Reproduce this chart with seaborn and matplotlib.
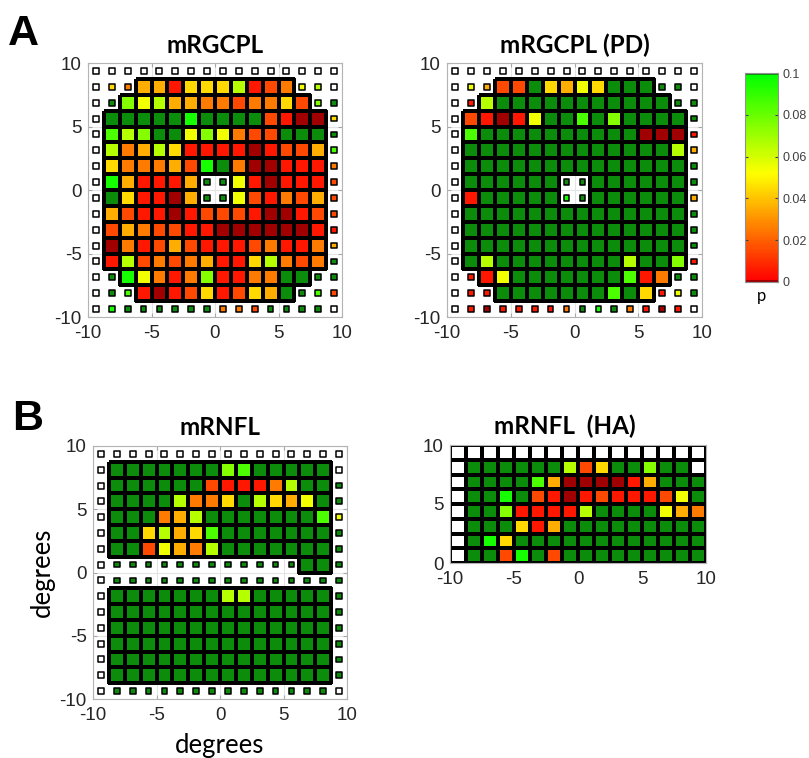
import numpy as np
import pandas as pd
import matplotlib
matplotlib.use("Agg")
import matplotlib.pyplot as plt
from matplotlib.colors import LinearSegmentedColormap, ListedColormap, to_rgba
import seaborn as sns

plt.rcParams["font.family"] = ["Liberation Sans", "DejaVu Sans"]

# p values, one character per test location (1.25 deg grid)
# digit d -> p about (d + 0.5) / 100, D -> p < 0.001 (dark red),
# G -> p >= 0.1 (dark green), W -> white
rgcpl = [
    "WWWWWWWWWWWWWWWW",
    "W42330444601256W",
    "WG7563322122417G",
    "WGGGGG9GGGG10DD4",
    "W867GG575211GGGG",
    "W623640000D01138",
    "W4222319G2DD0002",
    "W930003GG50D0001",
    "WG400D3GG5102131",
    "W3100D01110DD011",
    "W1321100DDDDDD00",
    "WD20131000120023",
    "W06121230046212G",
    "WG9520270022GGGG",
    "WG80D0140143GG81",
    "W9GGGGGG221GGGGW",
]
rgcpl_pd = [
    "WWWWWWWWWWWWWWWW",
    "W5311G4354GGGGGW",
    "W06GGGGGGGGGGGGG",
    "W10D05GG8G7GGGGG",
    "W8GGGGGGGGGGDDD0",
    "WGGGGGGGGGGGGG63",
    "WGGGGGGGGGGGGGGG",
    "WGGGGGGGGGGGGGGG",
    "W0GGGGG9GGGGGGG3",
    "WGGGGGGGGGGGGGGG",
    "WGGGGGGGGGGGGGGG",
    "WGGGGGGGGGGGGGGG",
    "WG6GGGGGGGG6GG70",
    "W005GGGGGGG802GG",
    "W00GGGGGGG8G405G",
    "W0D00002G9G20D0W",
]
rnfl = [
    "WWWWWWWWWWWWWWWW",
    "WGGGGGGG78GGGGGW",
    "WGGGGGG100026GGG",
    "WGGGG6224G6435GG",
    "WGGG236GGGGGGG85",
    "WGG46348GGGGGGGG",
    "WGG15326GGGGGGGG",
    "WGGGGGGGGGGGGGGG",
    "WGGGGGGGGGGGGGGG",
    "WGGGGGGG66GGGGGG",
    "WGGGGGGGGGGGGGGG",
    "WGGGGGGGGGGGGGGG",
    "WGGGGGGGGGGGGGGG",
    "WGGGGGGGGGGGGGGG",
    "WGGGGGGGGGGGGGGG",
    "WGGGGGGGGGGGGGGW",
]
rnfl_ha = [
    "WWWWWWWWWWWWWWWW",
    "WGGGGGG614GG7GGW",
    "WGGGG83DDDD03GGG",
    "WGG9G10D0100015G",
    "WGG700006GGGG532",
    "WGGG403GGGGGGGGG",
    "WG94GGGGGGGGGGGG",
    "WGG19G1GGGGGGGGG",
]

# '#' full square, '.' small marker
ring_shape = [
    "................",
    "...##########...",
    "..############..",
    ".##############.",
    ".##############.",
    ".##############.",
    ".##############.",
    ".######..######.",
    ".######..######.",
    ".##############.",
    ".##############.",
    ".##############.",
    ".##############.",
    "..############..",
    "...##########...",
    "................",
]
rnfl_shape = [
    "................",
    ".##############.",
    ".##############.",
    ".##############.",
    ".##############.",
    ".##############.",
    ".##############.",
    ".............##.",
    "................",
    ".##############.",
    ".##############.",
    ".##############.",
    ".##############.",
    ".##############.",
    ".##############.",
    "................",
]
ha_shape = ["################"] * 8

ticks = [-10, -5, 0, 5, 10]
cbar_ticks = [0, 0.02, 0.04, 0.06, 0.08, 0.1]
cbar_labels = ["0", "0.02", "0.04", "0.06", "0.08", "0.1"]

grad = LinearSegmentedColormap.from_list(
    "ryg", [(0, "#ff0000"), (0.52, "#ffff00"), (1, "#00ff00")])
lut = grad(np.linspace(0, 1, 100))
lut[0] = to_rgba("#a00000")
lut[-1] = to_rgba("#0b8c0b")
pmap = ListedColormap(lut)


def to_p(rows):
    p = np.full((len(rows), len(rows[0])), np.nan)
    for i, row in enumerate(rows):
        assert len(row) == p.shape[1], (i, row)
        for j, c in enumerate(row):
            if c == "D":
                p[i, j] = 0.0
            elif c == "G":
                p[i, j] = 0.1
            elif c.isdigit():
                p[i, j] = (int(c) + 0.5) / 100
    return p


def draw_map(ax, codes, shape, title, ymin=-10, cax=None, pad=7.5, tx=0.5):
    p = to_p(codes)
    big = np.array([[s == "#" for s in row] for row in shape])
    nrow, ncol = p.shape

    hide = ~big | np.isnan(p)
    sns.heatmap(p, mask=hide, cmap=pmap, vmin=0, vmax=0.1, linewidths=1.5,
                linecolor="black", cbar=cax is not None, cbar_ax=cax,
                xticklabels=False, yticklabels=False, ax=ax)
    edges = np.zeros((p.size, 4))
    edges[~hide.ravel()] = (0, 0, 0, 1)
    ax.collections[-1].set_edgecolor(edges)

    blank = big & np.isnan(p)
    if blank.any():
        sns.heatmap(np.zeros(p.shape), mask=~blank, cmap=ListedColormap(["white"]),
                    linewidths=1.5, linecolor="black", cbar=False,
                    xticklabels=False, yticklabels=False, ax=ax)
        edges = np.zeros((p.size, 4))
        edges[blank.ravel()] = (0, 0, 0, 1)
        ax.collections[-1].set_edgecolor(edges)

    r, c = np.nonzero(~big)
    dots = pd.DataFrame({"x": c + 0.5, "y": r + 0.5, "p": p[r, c]})
    if dots.p.notna().any():
        sns.scatterplot(data=dots.dropna(), x="x", y="y", hue="p", palette=pmap,
                        hue_norm=(0, 0.1), marker="s", s=17, edgecolor="black",
                        linewidth=1.1, legend=False, ax=ax)
    if dots.p.isna().any():
        sns.scatterplot(data=dots[dots.p.isna()], x="x", y="y", color="white",
                        marker="s", s=17, edgecolor="black", linewidth=1.1,
                        legend=False, ax=ax)

    ax.set_xlim(0, ncol)
    ax.set_ylim(nrow, 0)
    ax.set(xlabel="", ylabel="")
    ax.set_xticks([(t + 10) / 1.25 for t in ticks], [str(t) for t in ticks])
    yt = [t for t in ticks if t >= ymin]
    ax.set_yticks([(10 - t) / 1.25 for t in yt], [str(t) for t in yt])
    ax.tick_params(direction="in", length=3, color="#a8a8a8", labelsize=13.5,
                   labelcolor="#262626", top=True, right=True)
    ax.tick_params(axis="x", pad=6)
    ax.tick_params(axis="y", pad=4.5)
    ax.grid(True, color="#e4e4e4", lw=0.8)
    ax.set_axisbelow(True)
    for sp in ax.spines.values():
        sp.set_visible(True)
        sp.set_color("#b4b4b4")
        sp.set_linewidth(0.8)
    ax.set_title(title, fontsize=17.5, fontweight="bold", family="Lato", pad=pad, x=tx)


fig = plt.figure(figsize=(8.09, 7.58), dpi=100)
W, H = 809, 758


def box(x0, y0, x1, y1):
    return [x0 / W, 1 - y1 / H, (x1 - x0) / W, (y1 - y0) / H]


ax1 = fig.add_axes(box(88, 63, 342, 317))
ax2 = fig.add_axes(box(447, 63, 702, 317))
cax = fig.add_axes(box(745, 73, 778, 282))
ax3 = fig.add_axes(box(93, 446, 347, 699))
ax4 = fig.add_axes(box(450, 445, 706, 563))

draw_map(ax1, rgcpl, ring_shape, "mRGCPL", cax=cax)
draw_map(ax2, rgcpl_pd, ring_shape, "mRGCPL (PD)")
draw_map(ax3, rnfl, rnfl_shape, "mRNFL", pad=8)
draw_map(ax4, rnfl_ha, ha_shape, "mRNFL  (HA)", ymin=0, pad=8, tx=0.45)

cbar = ax1.collections[0].colorbar
cbar.set_ticks(cbar_ticks, labels=cbar_labels)
cbar.outline.set_linewidth(0.8)
cbar.outline.set_edgecolor("#909090")
cax.tick_params(direction="in", length=2, labelsize=9, labelcolor="#404040",
                color="#404040", left=True, right=True)
cax.set_xlabel("p", fontsize=12, family="Lato", labelpad=4)

ax3.set_xlabel("degrees", fontsize=18.5, family="Lato", labelpad=6, visible=True)
ax3.set_ylabel("degrees", fontsize=18.5, family="Lato", labelpad=3, visible=True)

fig.text(8 / W, 1 - 45 / H, "A", fontsize=31, fontweight="bold", va="baseline")
fig.text(12 / W, 1 - 430 / H, "B", fontsize=31, fontweight="bold", va="baseline")

fig.savefig("out.png", dpi=100)
